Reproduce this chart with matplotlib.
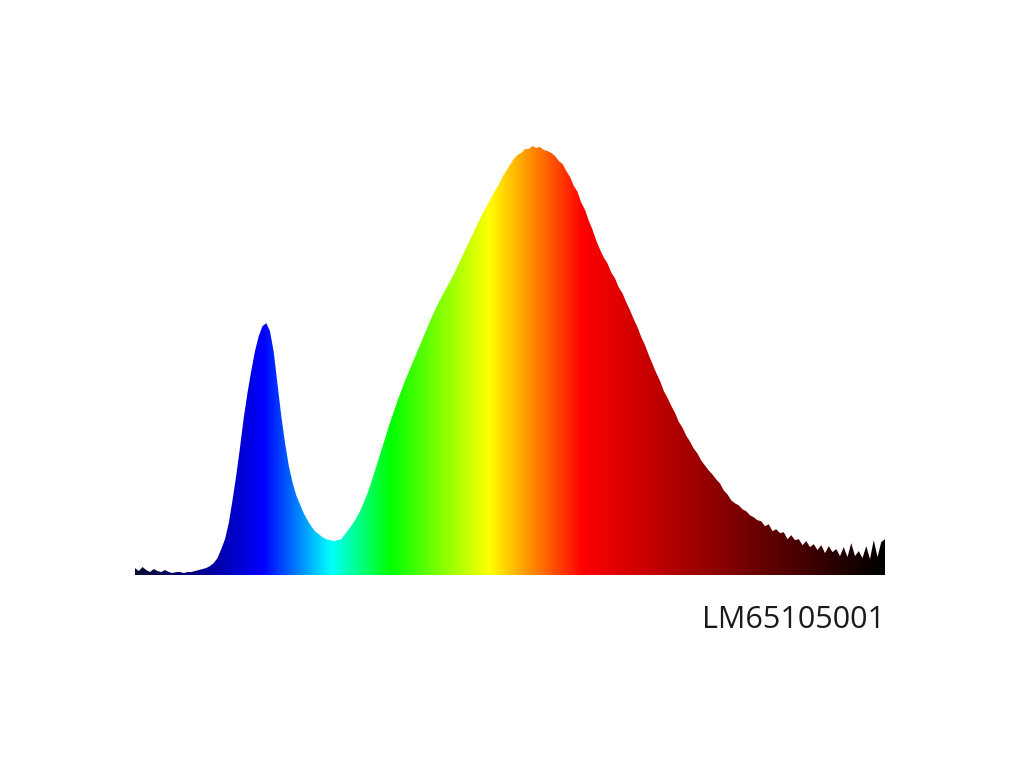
import numpy as np
import matplotlib
matplotlib.use("Agg")
import matplotlib.pyplot as plt
from matplotlib.colors import LinearSegmentedColormap, Normalize
from matplotlib.patches import PathPatch

# spectrum, 2 nm steps, arbitrary units (peak ~430)
wavelength = np.arange(380, 781, 2)
intensity = [
    7, 4, 8, 5, 3, 6, 4, 3, 5, 3, 2, 3, 3, 2, 3, 3, 4, 5,
    6, 7, 9, 12, 17, 26, 36, 52, 75, 100, 128, 158, 183, 205, 225, 240, 250, 253,
    245, 224, 192, 160, 133, 110, 93, 80, 71, 62, 55, 49, 44, 41, 38, 36, 35, 34,
    35, 36, 41, 46, 51, 57, 64, 73, 82, 93, 105, 117, 129, 141, 153, 164, 175, 185,
    195, 204, 213, 222, 231, 240, 249, 258, 266, 274, 281, 288, 295, 302, 310, 318,
    326, 334, 342, 350, 358, 365, 372, 379, 386, 392,
    400, 406, 412, 418, 422, 424, 428, 428, 431, 429, 430, 427, 426, 424, 421, 416,
    413, 406, 400, 391, 385, 374, 367, 356, 347, 336, 327, 319, 313, 304, 298, 289,
    283, 274, 266, 257, 249, 239, 231, 221, 212, 203, 195, 185, 178, 170, 163, 154,
    148, 140, 134, 127, 122, 115, 110, 105, 101, 96, 92, 85, 81, 75,
    72, 70, 66, 64, 60, 58, 55, 54, 49, 51, 44, 46, 42, 43, 36, 40, 35, 36, 30, 34,
    28, 31, 25, 30, 22, 29, 23, 26, 19, 28, 18, 32, 19, 24, 17, 29, 16, 35, 18, 33, 36,
]
model = "LM65105001"

# colour of each wavelength
color_stops = [
    (380, (0.05, 0.05, 0.20)),
    (415, (0.00, 0.00, 0.55)),
    (448, (0.00, 0.00, 1.00)),
    (484, (0.00, 1.00, 1.00)),
    (516, (0.00, 1.00, 0.00)),
    (569, (1.00, 1.00, 0.00)),
    (619, (1.00, 0.00, 0.00)),
    (780, (0.00, 0.00, 0.00)),
]
lo, hi = 380, 780
cmap = LinearSegmentedColormap.from_list(
    "spectrum", [((w - lo) / (hi - lo), c) for w, c in color_stops])

fig = plt.figure(figsize=(10.24, 7.68), dpi=100)
ax = fig.add_axes([135 / 1024, 193 / 768, 750 / 1024, 430 / 768])
ax.set_xlim(lo, hi)
ax.set_ylim(0, 432)

area = ax.fill_between(wavelength, intensity, 0, color="none", lw=0)
clip = PathPatch(area.get_paths()[0], transform=ax.transData,
                 facecolor="none", edgecolor="none")
ax.add_patch(clip)

grad = np.linspace(lo, hi, 1200).reshape(1, -1)
im = ax.imshow(grad, extent=[lo, hi, 0, 432], aspect="auto", origin="lower",
               cmap=cmap, norm=Normalize(lo, hi), interpolation="bilinear")
im.set_clip_path(clip)

ax.axis("off")

fig.text(885 / 1024, (768 - 620) / 768, model, ha="right", va="center",
         fontsize=22, family="Open Sans", color="#1a1a1a")

fig.savefig("out.png", dpi=100, facecolor="white")
